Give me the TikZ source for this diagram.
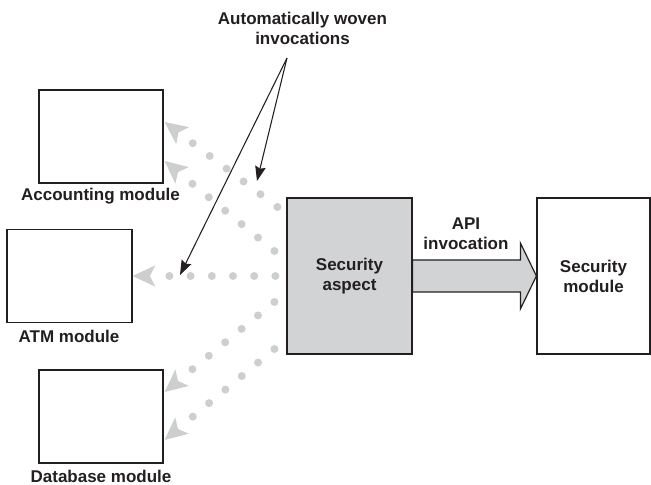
\documentclass[tikz,border=0pt]{standalone}
\usepackage{fontspec}
\setmainfont{Liberation Sans}
\usetikzlibrary{arrows.meta,calc}
\definecolor{aspectgray}{RGB}{209,211,212}
\definecolor{weavegray}{RGB}{205,206,207}
\definecolor{ink}{RGB}{35,31,32}
\begin{document}
\begin{tikzpicture}[x=0.75pt,y=-0.75pt,
  every node/.style={font=\fontsize{12.75}{15}\selectfont\bfseries, text=ink},
  module/.style={draw=ink, line width=0.9pt, fill=white, inner sep=0pt, align=center},
  caption/.style={align=center, inner sep=0pt},
  weave/.style={draw=weavegray, line width=6pt, line cap=round,
    dash pattern=on 0pt off 15.9pt,
    -{Stealth[length=17pt, width=16pt, inset=4pt, line width=0pt, fill=weavegray]}},
  pointer/.style={draw=ink, line width=0.8pt,
    -{Stealth[length=11pt, width=8pt, inset=1.5pt]}},
  bigarrow/.style={draw=ink, line width=0.9pt, fill=aspectgray, line join=miter}]

\path[use as bounding box] (0,0) rectangle (651,485);

% client modules on the left
\node[module, minimum width=93pt, minimum height=69.75pt] (acc) at (101,136.5) {};
\node[module, minimum width=93.75pt, minimum height=69.75pt] (atm) at (69.5,276) {};
\node[module, minimum width=93pt, minimum height=69.75pt] (db) at (101,416.5) {};

\node[anchor=base, inner sep=0pt] (acclbl) at (100.5,201) {Accounting module};
\node[anchor=base, inner sep=0pt] (atmlbl) at (69,342) {ATM module};
\node[anchor=base, inner sep=0pt] (dblbl) at (101,482) {Database module};

% the aspect and the module it calls
\node[module, fill=aspectgray, minimum width=93.75pt, minimum height=117pt] (asp) at (349.5,276) {Security\\aspect};
\node[module, minimum width=84.75pt, minimum height=117pt] (mod) at (593.5,276) {Security\\module};

% API call from the aspect to the security module
\filldraw[bigarrow] ($(asp.east)+(0,-16)$) -- ($(mod.west)+(-16,-16)$)
  -- ($(mod.west)+(-16,-33)$) -- (mod.west) -- ($(mod.west)+(-16,33)$)
  -- ($(mod.west)+(-16,16)$) -- ($(asp.east)+(0,16)$) -- cycle;
\node[caption] (api) at (466,234) {API\\invocation};

% woven invocations
\draw[weave] ($(asp.west)+(-9,-69)$) -- ($(acc.east)+(1,-14.5)$);
\draw[weave] ($(asp.west)+(-12,-25)$) -- ($(acc.east)+(1,24.5)$);
\draw[weave] ($(asp.west)+(-11,0)$) -- (atm.east);
\draw[weave] ($(asp.west)+(-12,26)$) -- ($(db.east)+(1,-24.5)$);
\draw[weave] ($(asp.west)+(-12,73)$) -- ($(db.east)+(1,23.5)$);

% callout
\node[caption] (woven) at (302.5,28) {Automatically woven\\invocations};
\coordinate (callout) at (287,58);
\coordinate (hitA) at (257,181);
\coordinate (hitB) at (180,275);
\draw[pointer] (callout) -- (hitA);
\draw[pointer] (callout) -- (hitB);
\end{tikzpicture}
\end{document}
